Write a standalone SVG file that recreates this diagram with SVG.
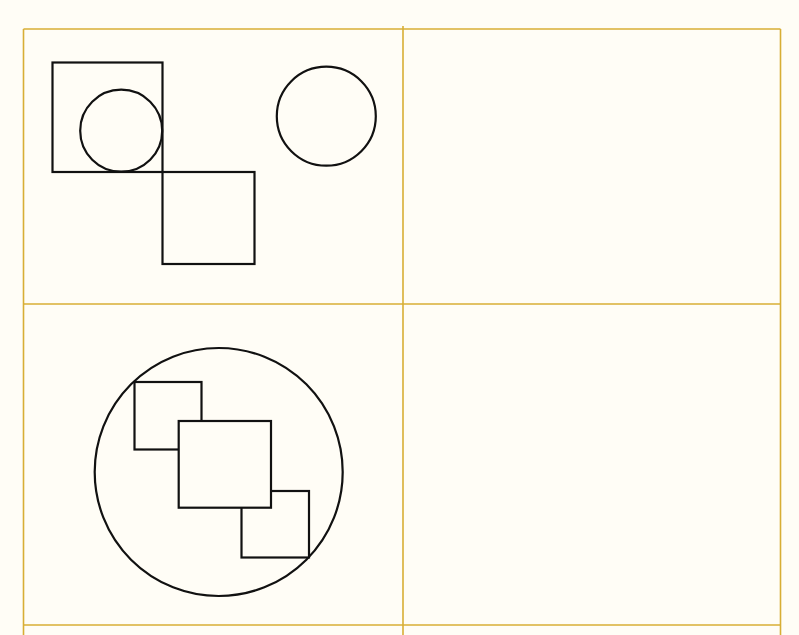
<svg xmlns="http://www.w3.org/2000/svg" width="799" height="635" viewBox="0 0 799 635">
<style>
.grid{stroke:#d8ae35;stroke-width:1.6;fill:none}
.shape{stroke:#111;stroke-width:2.2;fill:#fffdf6}
.open{stroke:#111;stroke-width:2.2;fill:none}
</style>
<rect x="0" y="0" width="799" height="635" fill="#fffdf6"/>
<g id="grid">
<line class="grid" x1="23.5" y1="29" x2="780.5" y2="29"/>
<line class="grid" x1="23.5" y1="304" x2="780.5" y2="304"/>
<line class="grid" x1="23.5" y1="625" x2="780.5" y2="625"/>
<line class="grid" x1="23.5" y1="29" x2="23.5" y2="635"/>
<line class="grid" x1="403" y1="26" x2="403" y2="635"/>
<line class="grid" x1="780.5" y1="29" x2="780.5" y2="635"/>
</g>
<g id="square-a"><rect class="open" x="52.5" y="62.5" width="110" height="109.5"/></g>
<g id="circle-a"><circle class="open" cx="121.2" cy="130.7" r="41"/></g>
<g id="square-b"><rect class="open" x="162.5" y="172" width="92" height="92"/></g>
<g id="circle-b"><circle class="open" cx="326.3" cy="116.2" r="49.5"/></g>
<g id="big-circle"><circle class="shape" cx="218.7" cy="472" r="124"/></g>
<g id="small-square-1"><rect class="shape" x="134.5" y="382" width="67" height="67.5"/></g>
<g id="small-square-2"><rect class="shape" x="241.5" y="491" width="67.5" height="66.5"/></g>
<g id="center-square"><rect class="shape" x="178.7" y="421" width="92.3" height="86.7"/></g>
</svg>
